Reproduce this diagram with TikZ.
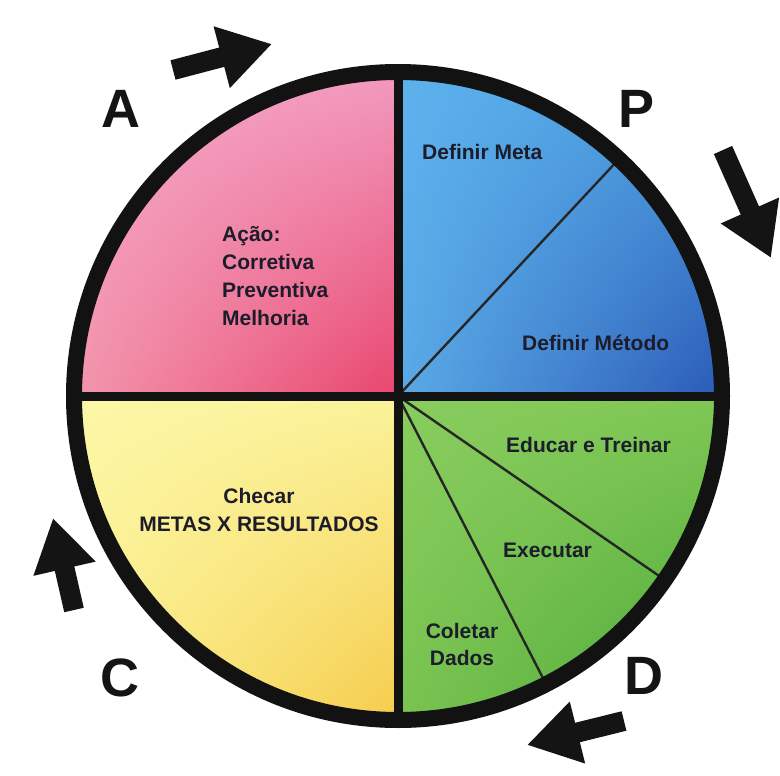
\documentclass[tikz,border=0pt]{standalone}
\usepackage{fontspec}
\setmainfont{Liberation Sans}
\usetikzlibrary{arrows.meta,shadings}
\definecolor{ink}{HTML}{1C1C2A}
\definecolor{pinkA}{HTML}{F5AACB}
\definecolor{pinkB}{HTML}{F29CC0}
\definecolor{pinkC}{HTML}{F397AE}
\definecolor{pinkD}{HTML}{E8456E}
\definecolor{blueA}{HTML}{5DB3EE}
\definecolor{blueB}{HTML}{4C9EDF}
\definecolor{blueC}{HTML}{5AAAE6}
\definecolor{blueD}{HTML}{2A58B6}
\definecolor{greenA}{HTML}{88CD5E}
\definecolor{greenB}{HTML}{80C754}
\definecolor{greenC}{HTML}{7AC350}
\definecolor{greenD}{HTML}{44A536}
\definecolor{yelA}{HTML}{FCF7A8}
\definecolor{yelB}{HTML}{FAF29A}
\definecolor{yelC}{HTML}{FBF08E}
\definecolor{yelD}{HTML}{F5CB4A}
\begin{document}
\begin{tikzpicture}[x=1pt,y=-1pt,
  ring/.style={draw=black!93, line width=16pt},
  divider/.style={draw=black!93, line width=9pt},
  thinline/.style={draw=black!85, line width=2.4pt},
  lbl/.style={font=\fontsize{21}{28}\selectfont\bfseries, text=ink, inner sep=0pt},
  letter/.style={font=\fontsize{54}{60}\selectfont\bfseries, text=black!92, inner sep=0pt, anchor=base},
  blockarrow/.style={draw=black!92, line width=20pt, -{Triangle[length=52pt,width=60pt]}}
]
\useasboundingbox (0,0) rectangle (780,776);
\fill[white] (0,0) rectangle (780,776);
\coordinate (O) at (398,396);
% quadrant fills
\begin{scope}
  \clip (O) circle[radius=324pt];
  \shade[upper left=pinkA, upper right=pinkB, lower left=pinkC, lower right=pinkD] (66,64) rectangle (398,396);
  \shade[upper left=blueA, upper right=blueB, lower left=blueC, lower right=blueD] (398,64) rectangle (730,396);
  \shade[upper left=yelA, upper right=yelB, lower left=yelC, lower right=yelD] (66,396) rectangle (398,728);
  \shade[upper left=greenA, upper right=greenB, lower left=greenC, lower right=greenD] (398,396) rectangle (730,728);
\end{scope}
% sub-division lines
\coordinate (pm) at (619,159);
\coordinate (g1) at (665,580);
\coordinate (g2) at (546,684);
\draw[thinline] (O) -- (pm);
\draw[thinline] (O) -- (g1);
\draw[thinline] (O) -- (g2);
% dividers
\coordinate (top) at (398,72);
\coordinate (bot) at (398,720);
\coordinate (lft) at (74,396);
\coordinate (rgt) at (722,396);
\draw[divider] (top) -- (bot);
\draw[divider] (lft) -- (rgt);
% ring
\draw[ring] (O) circle[radius=324pt];
% labels
\node[lbl, anchor=base west] (meta) at (422,160) {Definir Meta};
\node[lbl, anchor=base west] (metodo) at (522,350) {Definir Método};
\node[lbl, anchor=base west] (educ) at (506,452) {Educar e Treinar};
\node[lbl, anchor=base west] (exec) at (503,557) {Executar};
\node[lbl, anchor=base, align=center, font=\fontsize{21}{27}\selectfont\bfseries] (colet) at (462,665) {Coletar\\Dados};
\node[lbl, anchor=base west, align=left] (acao) at (222,325) {Ação:\\Corretiva\\Preventiva\\Melhoria};
\node[lbl, anchor=base, align=center] (check) at (259,531) {Checar\\METAS X RESULTADOS};
% PDCA letters
\node[letter] (A) at (121,128) {A};
\node[letter] (P) at (637,128) {P};
\node[letter] (C) at (120,696) {C};
\node[letter] (D) at (644,694) {D};
% cycle arrows
\coordinate (a1s) at (173,70);  \coordinate (a1e) at (272,44);
\coordinate (a2s) at (723,150); \coordinate (a2e) at (771,258);
\coordinate (a3s) at (74,610);  \coordinate (a3e) at (53,518);
\coordinate (a4s) at (624,721); \coordinate (a4e) at (527,745);
\draw[blockarrow] (a1s) -- (a1e);
\draw[blockarrow] (a2s) -- (a2e);
\draw[blockarrow] (a3s) -- (a3e);
\draw[blockarrow] (a4s) -- (a4e);
\end{tikzpicture}
\end{document}
